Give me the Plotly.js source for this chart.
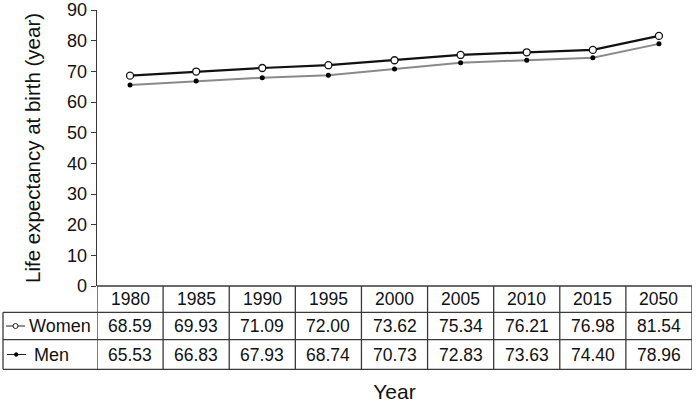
<!DOCTYPE html>
<html>
<head>
<meta charset="utf-8">
<script src="https://cdn.plot.ly/plotly-3.0.1.min.js"></script>
<style>html,body{margin:0;padding:0;background:#fff;}#chart{width:700px;height:403px;}</style>
</head>
<body>
<div id="chart"></div>
<script>
// Data
const years = ["1980", "1985", "1990", "1995", "2000", "2005", "2010", "2015", "2050"];
const women = [68.59, 69.93, 71.09, 72.00, 73.62, 75.34, 76.21, 76.98, 81.54];
const men = [65.53, 66.83, 67.93, 68.74, 70.73, 72.83, 73.63, 74.40, 78.96];
const seriesNames = ["Women", "Men"];
const yTicks = [0, 10, 20, 30, 40, 50, 60, 70, 80, 90];

// Layout constants (pixels)
const W = 700, H = 403;
const M = {l: 97, r: 8, t: 10, b: 117};
const plotH = H - M.t - M.b;
const plotW = W - M.l - M.r;
const py = d => -d / plotH;          // pixel offset below plot bottom -> paper y
const px = p => (p - M.l) / plotW;   // absolute pixel x -> paper x

const rowEdges = [0, 26.3, 53.7, 83.3]; // offsets below axis
const lineColor = "#3a3a3a";
const font = "Liberation Sans, Arial, sans-serif";
const textColor = "#111";

const traces = [
  {
    x: years, y: women, name: seriesNames[0], type: "scatter", mode: "lines+markers",
    line: {color: "#111", width: 2.2},
    marker: {symbol: "circle", size: 7, color: "#fff", line: {color: "#111", width: 1.3}},
    showlegend: false
  },
  {
    x: years, y: men, name: seriesNames[1], type: "scatter", mode: "lines+markers",
    line: {color: "#8a8a8a", width: 2},
    marker: {symbol: "circle", size: 5, color: "#000"},
    showlegend: false
  }
];

const shapes = [];
const annotations = [];

// horizontal table lines
shapes.push({type: "line", xref: "paper", yref: "paper", x0: 0, x1: 1, y0: py(rowEdges[0]), y1: py(rowEdges[0]), line: {color: lineColor, width: 1.3}});
for (let i = 1; i < rowEdges.length; i++) {
  shapes.push({type: "line", xref: "paper", yref: "paper", x0: px(3), x1: 1, y0: py(rowEdges[i]), y1: py(rowEdges[i]), line: {color: lineColor, width: 1.3}});
}
// vertical lines at category boundaries
for (let i = 0; i <= years.length; i++) {
  shapes.push({type: "line", xref: "x", yref: "paper", x0: i - 0.5, x1: i - 0.5, y0: py(rowEdges[0]), y1: py(rowEdges[3]), line: {color: lineColor, width: 1.3}});
}
// left border of label column
shapes.push({type: "line", xref: "paper", yref: "paper", x0: px(3), x1: px(3), y0: py(rowEdges[1]), y1: py(rowEdges[3]), line: {color: lineColor, width: 1.3}});

// table text (x given as category index)
const rowCenters = [(rowEdges[0] + rowEdges[1]) / 2, (rowEdges[1] + rowEdges[2]) / 2, (rowEdges[2] + rowEdges[3]) / 2];
const rows = [years, women.map(v => v.toFixed(2)), men.map(v => v.toFixed(2))];
rows.forEach((row, r) => {
  row.forEach((txt, i) => {
    annotations.push({xref: "x", yref: "paper", x: i, y: py(rowCenters[r]), text: txt, showarrow: false,
      xanchor: "center", yanchor: "middle", font: {family: font, size: 17.5, color: textColor}});
  });
});

// legend labels in table
annotations.push({xref: "paper", yref: "paper", x: px(27), y: py(rowCenters[1]), text: seriesNames[0], showarrow: false,
  xanchor: "left", yanchor: "middle", font: {family: font, size: 18, color: textColor}});
annotations.push({xref: "paper", yref: "paper", x: px(32), y: py(rowCenters[2]), text: seriesNames[1], showarrow: false,
  xanchor: "left", yanchor: "middle", font: {family: font, size: 18, color: textColor}});

// legend symbols
shapes.push({type: "line", xref: "paper", yref: "paper", x0: px(6), x1: px(25), y0: py(rowCenters[1]), y1: py(rowCenters[1]), line: {color: "#222", width: 1}});
shapes.push({type: "circle", xref: "paper", yref: "paper", x0: px(13), x1: px(18), y0: py(rowCenters[1] - 2.5), y1: py(rowCenters[1] + 2.5), line: {color: "#222", width: 1}, fillcolor: "#fff"});
shapes.push({type: "line", xref: "paper", yref: "paper", x0: px(7), x1: px(26), y0: py(rowCenters[2]), y1: py(rowCenters[2]), line: {color: "#222", width: 1}});
shapes.push({type: "circle", xref: "paper", yref: "paper", x0: px(14.5), x1: px(18), y0: py(rowCenters[2] - 1.75), y1: py(rowCenters[2] + 1.75), line: {color: "#000", width: 1}, fillcolor: "#000"});

const layout = {
  width: W, height: H,
  margin: M,
  paper_bgcolor: "#fff", plot_bgcolor: "#fff",
  font: {family: font, size: 18, color: textColor},
  xaxis: {
    type: "category", range: [-0.5, years.length - 0.5],
    showticklabels: false, ticks: "", showgrid: false, zeroline: false, showline: false,
    title: {text: "Year", font: {family: font, size: 21, color: textColor}, standoff: 98},
    automargin: false
  },
  yaxis: {
    range: [0, 90], tickvals: yTicks, ticks: "outside", ticklen: 5, tickcolor: lineColor,
    showline: true, linecolor: lineColor, linewidth: 1.3, showgrid: false, zeroline: false,
    tickfont: {family: font, size: 18, color: textColor}, ticklabeloverflow: "allow",
    title: {text: "Life expectancy at birth (year)", font: {family: font, size: 20.5, color: textColor}, standoff: 21},
    automargin: false
  },
  shapes: shapes,
  annotations: annotations
};

Plotly.newPlot("chart", traces, layout, {displayModeBar: false, staticPlot: true});
</script>
</body>
</html>
